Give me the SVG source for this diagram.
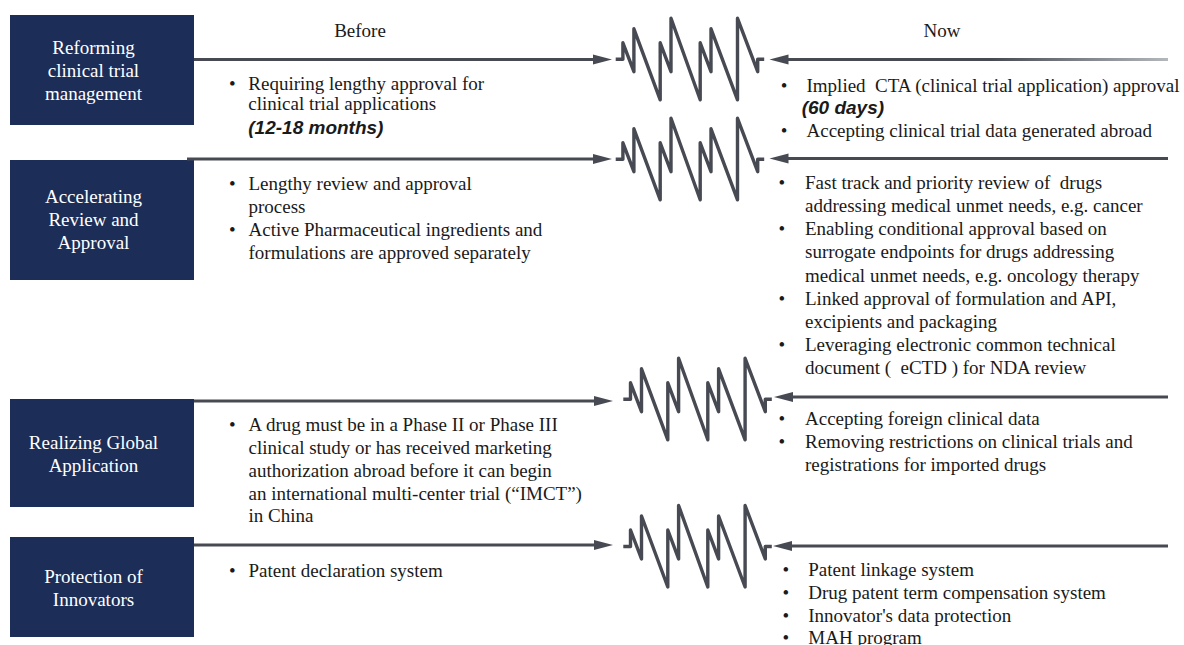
<svg xmlns="http://www.w3.org/2000/svg" width="1184" height="645" viewBox="0 0 1184 645">
<style>
.box{fill:#1c2d58}
.bt{font-family:"Liberation Serif","Times New Roman",serif;font-size:19px;fill:#ffffff;text-anchor:middle}
.t{font-family:"Liberation Serif","Times New Roman",serif;font-size:19px;fill:#1a1a1a;white-space:pre}
.bi{font-family:"Liberation Sans",Arial,sans-serif;font-size:19px;font-weight:bold;font-style:italic;fill:#1a1a1a}
.h{font-family:"Liberation Serif","Times New Roman",serif;font-size:19px;fill:#1a1a1a;text-anchor:middle}
.ln{stroke:#474a52;stroke-width:3;fill:none}
.ah{fill:#474a52}
.sp{stroke:#474a52;stroke-width:3.4;fill:none;stroke-linejoin:round}
</style>
<defs>
<path id="spring" d="M0,0 H7.2 V-16.5 L18.2,12.4 V-30.5 L44.5,40.5 V-16.5 L55.3,12.4 V-41 L84.5,40.5 V-16.5 L95.3,12.4 V-30.5 L121.8,40.5 V-41 L142,12.4 V0 H148.5"/>
<linearGradient id="fade" gradientUnits="userSpaceOnUse" x1="776" y1="0" x2="1168" y2="0">
<stop offset="0" stop-color="#474a52"/>
<stop offset="0.55" stop-color="#474a52"/>
<stop offset="1" stop-color="#b4b7bc"/>
</linearGradient>
</defs>

<g id="headers">
<text class="h" x="360" y="37">Before</text>
<text class="h" x="942" y="37">Now</text>
</g>

<g id="node-reforming">
<rect class="box" x="10" y="15" width="184" height="110"/>
<text class="bt" x="93.5" y="54">Reforming</text>
<text class="bt" x="93.5" y="77">clinical trial</text>
<text class="bt" x="93.5" y="100">management</text>
</g>

<g id="node-accelerating">
<rect class="box" x="10" y="160" width="184" height="120"/>
<text class="bt" x="93.5" y="203">Accelerating</text>
<text class="bt" x="93.5" y="226">Review and</text>
<text class="bt" x="93.5" y="249">Approval</text>
</g>

<g id="node-realizing">
<rect class="box" x="10" y="399" width="184" height="108"/>
<text class="bt" x="93.5" y="449">Realizing Global</text>
<text class="bt" x="93.5" y="472">Application</text>
</g>

<g id="node-protection">
<rect class="box" x="10" y="537" width="184" height="100"/>
<text class="bt" x="93.5" y="583">Protection of</text>
<text class="bt" x="93.5" y="606">Innovators</text>
</g>

<g id="connectors">
<line class="ln" x1="194" y1="59.5" x2="596" y2="59.5"/>
<polygon class="ah" points="612,59.5 593,54.5 593,64.5"/>
<use href="#spring" class="sp" transform="translate(615.7,59.3)"/>
<polygon class="ah" points="769.5,59.5 788.5,54.5 788.5,64.5"/>
<line x1="785" y1="59.5" x2="1168" y2="59.5" stroke="url(#fade)" stroke-width="3"/>

<line class="ln" x1="187" y1="159" x2="596" y2="159"/>
<polygon class="ah" points="612,159 593,154 593,164"/>
<use href="#spring" class="sp" transform="translate(615.7,159.3)"/>
<polygon class="ah" points="769.5,158.5 788.5,153.5 788.5,163.5"/>
<line class="ln" x1="785" y1="158.5" x2="1168" y2="158.5"/>

<line class="ln" x1="194" y1="401" x2="597" y2="401"/>
<polygon class="ah" points="613,401 594,396 594,406"/>
<use href="#spring" class="sp" transform="translate(623.3,399.3)"/>
<polygon class="ah" points="774,397 793,392 793,402"/>
<line class="ln" x1="789" y1="397" x2="1168" y2="397"/>

<line class="ln" x1="194" y1="545" x2="597" y2="545"/>
<polygon class="ah" points="613,545 594,540 594,550"/>
<use href="#spring" class="sp" transform="translate(623.3,546.5)"/>
<polygon class="ah" points="773,546 792,541 792,551"/>
<line class="ln" x1="788" y1="546" x2="1168" y2="546"/>
</g>

<g id="before-texts">
<text class="t" x="229" y="90">•</text>
<text class="t" x="248.3" y="90">Requiring lengthy approval for</text>
<text class="t" x="248.3" y="110">clinical trial applications</text>
<text class="bi" x="248.3" y="134">(12-18 months)</text>

<text class="t" x="229" y="190">•</text>
<text class="t" x="248.5" y="190">Lengthy review and approval</text>
<text class="t" x="248.5" y="213">process</text>
<text class="t" x="229" y="236">•</text>
<text class="t" x="248.5" y="236">Active Pharmaceutical ingredients and</text>
<text class="t" x="248.5" y="259">formulations are approved separately</text>

<text class="t" x="229" y="431">•</text>
<text class="t" x="248.5" y="431">A drug must be in a Phase II or Phase III</text>
<text class="t" x="248.5" y="454">clinical study or has received marketing</text>
<text class="t" x="248.5" y="477">authorization abroad before it can begin</text>
<text class="t" x="248.5" y="500">an international multi-center trial (“IMCT”)</text>
<text class="t" x="248.5" y="522">in China</text>

<text class="t" x="229" y="577">•</text>
<text class="t" x="248.5" y="577">Patent declaration system</text>
</g>

<g id="now-texts">
<text class="t" x="780.7" y="91.5">•</text>
<text class="t" x="806.5" y="91.5">Implied  CTA (clinical trial application) approval</text>
<text class="bi" x="801.7" y="113.5">(60 days)</text>
<text class="t" x="780.7" y="136.5">•</text>
<text class="t" x="806.5" y="136.5">Accepting clinical trial data generated abroad</text>

<text class="t" x="778.4" y="189">•</text>
<text class="t" x="805" y="189">Fast track and priority review of  drugs</text>
<text class="t" x="805" y="212">addressing medical unmet needs, e.g. cancer</text>
<text class="t" x="778.4" y="235.3">•</text>
<text class="t" x="805" y="235.3">Enabling conditional approval based on</text>
<text class="t" x="805" y="258.4">surrogate endpoints for drugs addressing</text>
<text class="t" x="805" y="281.5">medical unmet needs, e.g. oncology therapy</text>
<text class="t" x="778.4" y="304.6">•</text>
<text class="t" x="805" y="304.6">Linked approval of formulation and API,</text>
<text class="t" x="805" y="327.7">excipients and packaging</text>
<text class="t" x="778.4" y="350.8">•</text>
<text class="t" x="805" y="350.8">Leveraging electronic common technical</text>
<text class="t" x="805" y="374">document (  eCTD ) for NDA review</text>

<text class="t" x="778.4" y="425">•</text>
<text class="t" x="805" y="425">Accepting foreign clinical data</text>
<text class="t" x="778.4" y="448">•</text>
<text class="t" x="805" y="448">Removing restrictions on clinical trials and</text>
<text class="t" x="805" y="471">registrations for imported drugs</text>

<text class="t" x="782.4" y="576">•</text>
<text class="t" x="808.3" y="576">Patent linkage system</text>
<text class="t" x="782.4" y="599">•</text>
<text class="t" x="808.3" y="599">Drug patent term compensation system</text>
<text class="t" x="782.4" y="622">•</text>
<text class="t" x="808.3" y="622">Innovator's data protection</text>
<text class="t" x="782.4" y="644">•</text>
<text class="t" x="808.3" y="644">MAH program</text>
</g>
</svg>
